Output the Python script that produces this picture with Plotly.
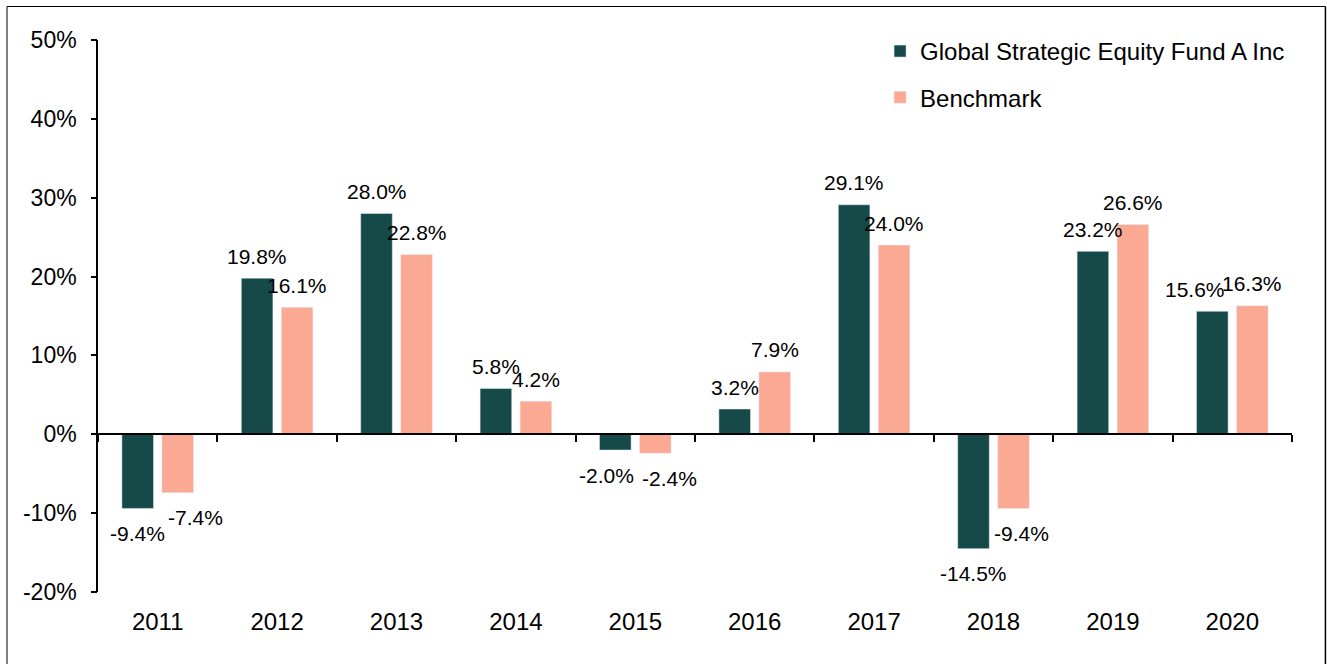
import plotly.graph_objects as go

years = ["2011", "2012", "2013", "2014", "2015", "2016", "2017", "2018", "2019", "2020"]
fund = [-9.4, 19.8, 28.0, 5.8, -2.0, 3.2, 29.1, -14.5, 23.2, 15.6]
bench = [-7.4, 16.1, 22.8, 4.2, -2.4, 7.9, 24.0, -9.4, 26.6, 16.3]
fund_name = "Global Strategic Equity Fund A Inc"
bench_name = "Benchmark"
y_ticks = [-20, -10, 0, 10, 20, 30, 40, 50]
y_ticktext = [f"{t}%" for t in y_ticks]

FUND_COLOR = "#164A49"
BENCH_COLOR = "#FBA992"
FONT = "Arial, Liberation Sans, sans-serif"

# label nudges (px) to avoid overlapping data labels, as in the original chart
fund_nudge = {4: -9, 9: -17}
bench_nudge = {0: 18, 4: 14, 7: 8}

fig = go.Figure()
fig.add_trace(go.Bar(x=years, y=fund, name=fund_name, marker_color=FUND_COLOR,
                     legendgroup="a", hoverinfo="skip"))
fig.add_trace(go.Bar(x=years, y=bench, name=bench_name, marker_color=BENCH_COLOR,
                     legendgroup="b", hoverinfo="skip"))
# helper trace for the zero-line category axis with boundary ticks and y tick marks
fig.add_trace(go.Scatter(x=years, y=[0] * len(years), xaxis="x2", yaxis="y2", showlegend=False,
                         hoverinfo="skip", mode="markers", marker=dict(opacity=0)))

annotations = []
for series, shift, nudge in ((fund, -20, fund_nudge), (bench, 20, bench_nudge)):
    for i, v in enumerate(series):
        annotations.append(dict(
            x=i, y=v, xref="x", yref="y", text=f"{v:.1f}%", showarrow=False,
            xshift=shift + nudge.get(i, 0), yshift=(22 if v >= 0 else -25), yanchor="middle",
            font=dict(family=FONT, size=21, color="#000000")))

# chart border
shapes = [
    dict(type="line", xref="paper", yref="paper", x0=-0.0762, x1=-0.0762, y0=-0.2, y1=1.0607,
         line=dict(color="#7F7F7F", width=2)),
    dict(type="line", xref="paper", yref="paper", x0=-0.0762, x1=1.028, y0=1.0607, y1=1.0607,
         line=dict(color="#000000", width=1)),
    dict(type="line", xref="paper", yref="paper", x0=1.028, x1=1.028, y0=-0.2, y1=1.0607,
         line=dict(color="#000000", width=1.5)),
]

fig.update_layout(
    width=1327, height=664,
    margin=dict(l=98, r=35, t=40, b=72),
    paper_bgcolor="white", plot_bgcolor="white",
    font=dict(family=FONT, size=24, color="#000000"),
    barmode="group", bargap=0.33, bargroupgap=0.21,
    showlegend=True,
    legend=dict(x=0.655, y=1.02, xanchor="left", yanchor="top",
                font=dict(family=FONT, size=24), tracegroupgap=12,
                bgcolor="rgba(0,0,0,0)", traceorder="grouped"),
    xaxis=dict(type="category", categoryorder="array", categoryarray=years,
               range=[-0.5, 9.5], showline=False, showgrid=False, zeroline=False,
               ticks="outside", ticklen=8, tickcolor="rgba(0,0,0,0)",
               tickfont=dict(family=FONT, size=24)),
    xaxis2=dict(type="category", categoryorder="array", categoryarray=years,
                range=[-0.5, 9.5], overlaying="x", anchor="free", position=20 / 70,
                showline=True, linecolor="#000000", linewidth=1.5,
                ticks="outside", tickson="boundaries", ticklen=7, tickwidth=1.5,
                tickcolor="#000000", showticklabels=False, showgrid=False, zeroline=False),
    yaxis=dict(range=[-20, 50], tickmode="array", tickvals=y_ticks, ticktext=y_ticktext,
               showline=True, linecolor="#000000", linewidth=1.5,
               ticks="outside", ticklen=15, tickcolor="rgba(0,0,0,0)",
               showgrid=False, zeroline=False, tickfont=dict(family=FONT, size=23)),
    yaxis2=dict(range=[-20, 50], overlaying="y", anchor="x", side="left",
                tickmode="array", tickvals=y_ticks, showticklabels=False,
                showline=False, ticks="outside", ticklen=6, tickwidth=1.5,
                tickcolor="#000000", showgrid=False, zeroline=False),
    annotations=annotations,
    shapes=shapes,
)

fig.write_html("out.html")
